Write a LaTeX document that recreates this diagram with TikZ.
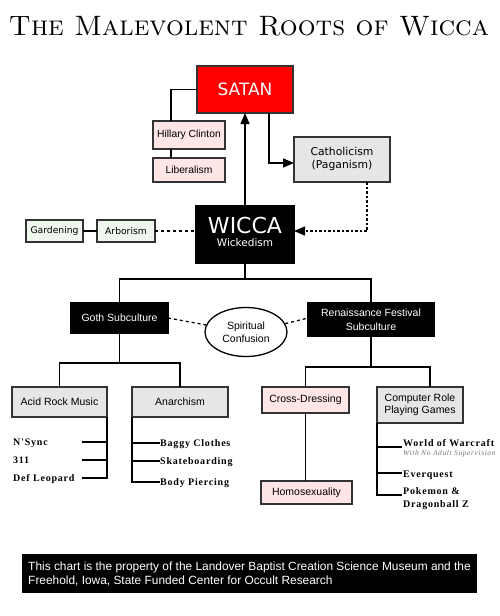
\documentclass[tikz,border=0pt]{standalone}
\usepackage{fontspec}
\usepackage{graphicx}
\setsansfont{Liberation Sans}
\newfontfamily\dejavu{DejaVu Sans}
\newfontfamily\listfont[LetterSpace=8]{Liberation Serif}
\usetikzlibrary{arrows.meta,shapes.geometric}
\definecolor{pinkfill}{HTML}{FFE6E6}
\definecolor{grayfill}{HTML}{E6E6E6}
\definecolor{greenfill}{HTML}{EEF6EE}
\definecolor{boxline}{HTML}{333333}
\definecolor{satanred}{HTML}{FF0000}
\definecolor{subgray}{HTML}{777777}
\tikzset{
  box/.style={draw=boxline, line width=1.4pt, inner sep=0pt, outer sep=0pt, align=center,
    font=\sffamily\fontsize{10.5}{12.5}\selectfont},
  pinkbox/.style={box, fill=pinkfill},
  graybox/.style={box, fill=grayfill},
  greenbox/.style={box, fill=greenfill, font=\dejavu\fontsize{9.2}{11}\selectfont},
  blackbox/.style={box, draw=black, fill=black, text=white},
  conn/.style={line width=1.3pt, draw=black},
  dashconn/.style={conn, dash pattern=on 3pt off 3pt},
  dotconn/.style={conn, dash pattern=on 2.5pt off 2pt},
  tipend/.style={-{Triangle[length=11pt,width=9pt]}},
  listtxt/.style={inner sep=0pt, anchor=base west, font=\listfont\bfseries\fontsize{10}{12}\selectfont},
  subtxt/.style={inner sep=0pt, anchor=base west, text=subgray, font=\listfont\itshape\fontsize{7.5}{9}\selectfont},
}
\begin{document}
\begin{tikzpicture}[x=1pt,y=-1pt]
\useasboundingbox (0,0) rectangle (500,616);
\fill[white] (0,0) rectangle (500,616);

% title
\node[inner sep=0pt, font=\rmfamily] (title) at (249,26.5)
  {\resizebox{480pt}{!}{\scshape The Malevolent Roots of Wicca}};

% top part
\node[box, fill=satanred, text=white, font=\dejavu\fontsize{17}{20}\selectfont,
  minimum width=96pt, minimum height=47pt] (satan) at (245,89.5) {SATAN};
\node[pinkbox, font=\sffamily\fontsize{10.3}{12}\selectfont, minimum width=72pt, minimum height=28pt] (hillary) at (189,135) {Hillary Clinton};
\node[pinkbox, font=\sffamily\fontsize{10.3}{12}\selectfont, minimum width=72pt, minimum height=24pt] (liberal) at (189,170) {Liberalism};
\node[graybox, font=\dejavu\fontsize{10.8}{13}\selectfont, minimum width=96pt, minimum height=45pt] (cathol) at (342,159.5) {Catholicism\\(Paganism)};

\node[blackbox, minimum width=98pt, minimum height=57pt] (wicca) at (245,234.5) {};
\node[inner sep=0pt, anchor=base, text=white, font=\dejavu\fontsize{22}{24}\selectfont] (wiccat) at (245,233) {WICCA};
\node[inner sep=0pt, anchor=base, text=white, font=\dejavu\fontsize{10.5}{12}\selectfont] (wiccas) at (245,246.5) {Wickedism};

\node[greenbox, minimum width=57pt, minimum height=22pt] (garden) at (54.5,231) {Gardening};
\node[greenbox, minimum width=58pt, minimum height=22pt] (arbor) at (126,231) {Arborism};

% middle
\node[blackbox, minimum width=97pt, minimum height=30pt] (goth) at (119.5,318) {Goth Subculture};
\node[blackbox, font=\sffamily\fontsize{10.5}{14}\selectfont, minimum width=126pt, minimum height=33pt] (renai) at (371,319.5) {Renaissance Festival\\Subculture};
\node[ellipse, draw=black, fill=white, line width=1.3pt, inner sep=0pt, align=center,
  font=\sffamily\fontsize{10.5}{12.5}\selectfont, minimum width=82pt, minimum height=49pt] (conf) at (246,332) {Spiritual\\Confusion};

% lower boxes
\node[graybox, minimum width=95pt, minimum height=30pt] (acid) at (59.5,402) {Acid Rock Music};
\node[graybox, minimum width=96pt, minimum height=30pt] (anar) at (180,402) {Anarchism};
\node[pinkbox, minimum width=87pt, minimum height=26pt] (cross) at (305.5,400) {Cross-Dressing};
\node[pinkbox, minimum width=91pt, minimum height=23pt] (homo) at (306.5,492.5) {Homosexuality};
\node[graybox, minimum width=86pt, minimum height=36pt] (crpg) at (420,405) {Computer Role\\Playing Games};

% lists
\node[listtxt] (nsync) at (13,445.5) {N'Sync};
\node[listtxt] (three) at (13,463.5) {311};
\node[listtxt] (defl) at (13,481.5) {Def Leopard};
\node[listtxt] (baggy) at (160,446.5) {Baggy Clothes};
\node[listtxt] (skate) at (160,464) {Skateboarding};
\node[listtxt] (body) at (160,485) {Body Piercing};
\node[listtxt] (wow) at (403,446) {World of Warcraft};
\node[subtxt] (wowsub) at (403,455.5) {With No Adult Supervision};
\node[listtxt] (everq) at (403,477) {Everquest};
\node[listtxt] (poke) at (403,494) {Pokemon \&};
\node[listtxt] (dball) at (403,507) {Dragonball Z};

% footer
\node[fill=black, text=white, inner sep=0pt, align=left, minimum width=455pt, minimum height=39pt,
  font=\sffamily\fontsize{11.9}{14}\selectfont] (footer) at (249.5,573.5)
  {This chart is the property of the Landover Baptist Creation Science Museum and the\\Freehold, Iowa, State Funded Center for Occult Research};

% coordinates
\coordinate (wj) at (245,279);
\coordinate (gj) at (119.5,363);
\coordinate (rj) at (371,367);
\coordinate (rj2) at (430,367);
\coordinate (a1) at (82,442);
\coordinate (a2) at (82,460);
\coordinate (a3) at (82,478);
\coordinate (b1) at (160,443);
\coordinate (b2) at (160,461);
\coordinate (b3) at (160,482);
\coordinate (c1) at (402,447);
\coordinate (c2) at (402,473);
\coordinate (c3) at (402,495);

% connectors top
\draw[conn] (satan.west) -| ([xshift=-18pt]hillary.north);
\draw[conn] ([xshift=-18pt]hillary.south) -- ([xshift=-18pt]liberal.north);
\draw[conn, tipend] (wicca.north) -- (satan.south);
\draw[conn, tipend] ([xshift=24pt]satan.south) |- ([yshift=-3.5pt]cathol.west);
\draw[dotconn, tipend] ([xshift=25pt]cathol.south) |- (wicca.east |- arbor);
\draw[conn] (garden) -- (arbor);
\draw[dashconn] (arbor) -- (arbor -| wicca.west);

% connectors middle
\draw[conn] (wicca.south) -- (wj);
\draw[conn] (goth.north) |- (wj) -| (renai.north);
\draw[dashconn] (goth.east) -- (conf.170);
\draw[dashconn] (conf.12) -- ([yshift=1.5pt]renai.west);
\draw[conn] (goth.south) -- (gj);
\draw[conn] (acid.north) |- (gj) -| (anar.north);
\draw[conn] (renai.south) -- (rj);
\draw[conn] (cross.north) |- (rj) -- (rj2) -- (rj2 |- crpg.north);

% connectors lower
\draw[conn] (acid.south east) |- (a3);
\draw[conn] (a1) -- (a1 -| acid.east);
\draw[conn] (a2) -- (a2 -| acid.east);
\draw[conn] (anar.south west) |- (b3);
\draw[conn] (b1) -- (b1 -| anar.west);
\draw[conn] (b2) -- (b2 -| anar.west);
\draw[conn] (cross.south) -- (cross.south |- homo.north);
\draw[conn] (crpg.south west) |- (c3);
\draw[conn] (c1) -- (c1 -| crpg.west);
\draw[conn] (c2) -- (c2 -| crpg.west);
\end{tikzpicture}
\end{document}
